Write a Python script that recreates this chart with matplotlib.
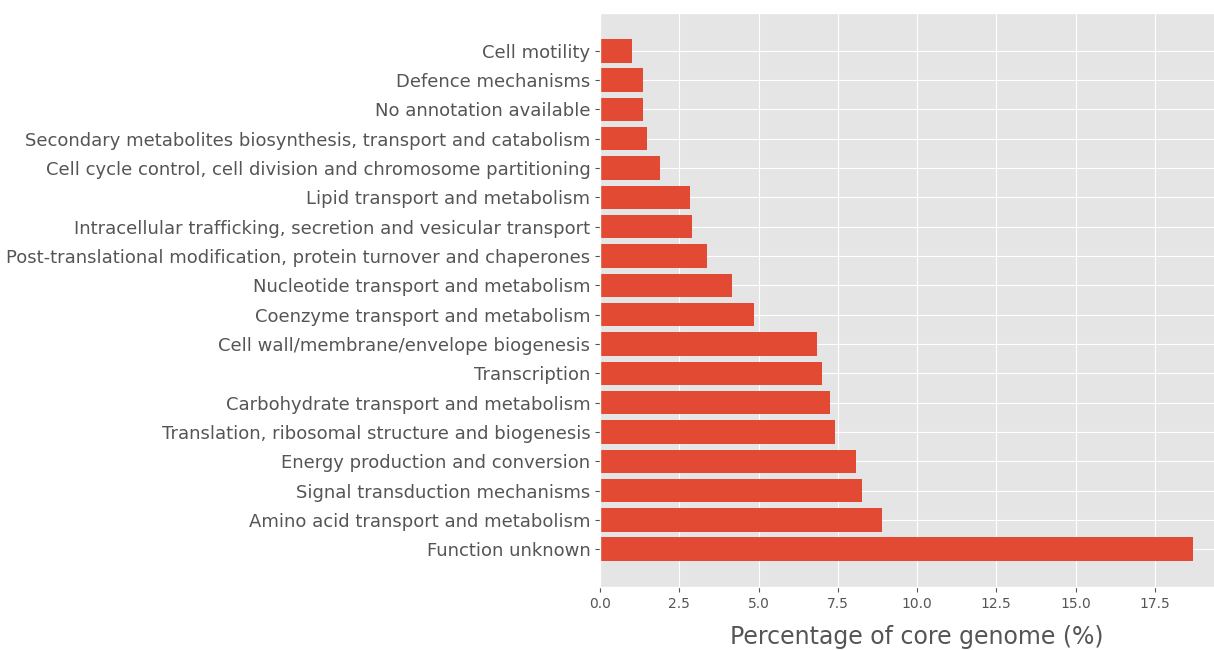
import matplotlib
matplotlib.use("Agg")
import matplotlib.pyplot as plt

categories = [
    "Function unknown",
    "Amino acid transport and metabolism",
    "Signal transduction mechanisms",
    "Energy production and conversion",
    "Translation, ribosomal structure and biogenesis",
    "Carbohydrate transport and metabolism",
    "Transcription",
    "Cell wall/membrane/envelope biogenesis",
    "Coenzyme transport and metabolism",
    "Nucleotide transport and metabolism",
    "Post-translational modification, protein turnover and chaperones",
    "Intracellular trafficking, secretion and vesicular transport",
    "Lipid transport and metabolism",
    "Cell cycle control, cell division and chromosome partitioning",
    "Secondary metabolites biosynthesis, transport and catabolism",
    "No annotation available",
    "Defence mechanisms",
    "Cell motility",
]
percentages = [18.70, 8.89, 8.27, 8.08, 7.41, 7.25, 7.01, 6.84, 4.85, 4.15,
               3.39, 2.91, 2.84, 1.89, 1.48, 1.37, 1.35, 1.00]

plt.style.use("ggplot")

fig = plt.figure(figsize=(12.14, 6.5), dpi=100)
# axes runs a little past the right edge, as in the original crop
ax = fig.add_axes([600 / 1214, 63 / 650, 634 / 1214, 574 / 650])

ax.barh(categories, percentages, color="#E24A33", height=0.8)
ax.set_xlim(0, 20)
ax.set_xticks([0, 2.5, 5, 7.5, 10, 12.5, 15, 17.5])
ax.tick_params(axis="y", labelsize=13, colors="#555555")
ax.tick_params(axis="x", labelsize=10, colors="#555555")
ax.set_xlabel("Percentage of core genome (%)", fontsize=17, color="#555555", labelpad=10)

fig.savefig("out.png", dpi=100)
